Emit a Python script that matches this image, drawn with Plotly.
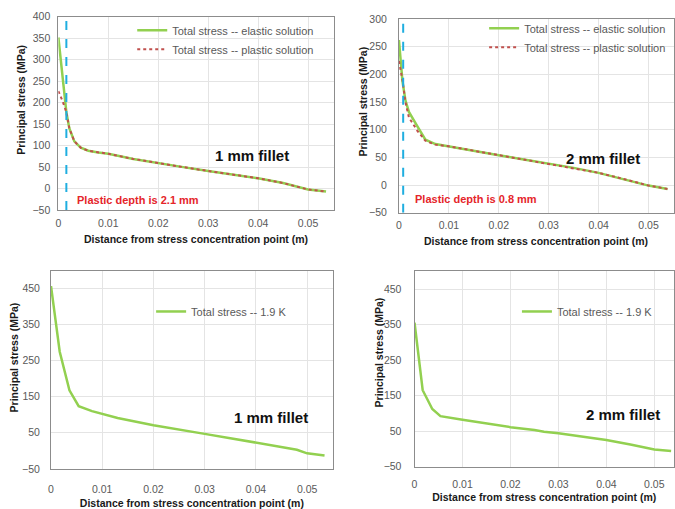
import plotly.graph_objects as go

W, H = 675, 509

# ---------------- data ----------------
tl_el_x = [0, 0.0016, 0.0022, 0.0032, 0.0045, 0.006, 0.008, 0.01, 0.015, 0.02, 0.025, 0.03, 0.035, 0.04, 0.045, 0.05, 0.0536]
tl_el_y = [352, 178, 140, 110, 95, 88, 84, 81, 69, 59, 50, 41, 33, 24, 13, -2, -7]
tl_pl_x = [0, 0.0008, 0.0016, 0.0022, 0.0032, 0.0045, 0.006, 0.008, 0.01, 0.015, 0.02, 0.025, 0.03, 0.035, 0.04, 0.045, 0.05, 0.0536]
tl_pl_y = [227, 205, 178, 140, 110, 95, 88, 84, 81, 69, 59, 50, 41, 33, 24, 13, -2, -7]

tr_el_x = [0, 0.0007, 0.0013, 0.002, 0.0037, 0.0053, 0.0073, 0.01, 0.015, 0.02, 0.025, 0.03, 0.035, 0.04, 0.045, 0.05, 0.0538]
tr_el_y = [262, 188, 153, 132, 106, 82, 74, 70, 62, 54, 46, 39, 31, 22, 11, -1, -7]
tr_pl_x = [0, 0.0007, 0.0013, 0.002, 0.0037, 0.0053, 0.0073, 0.01, 0.015, 0.02, 0.025, 0.03, 0.035, 0.04, 0.045, 0.05, 0.0538]
tr_pl_y = [224, 190, 150, 122, 98, 80, 73, 70, 62, 54, 46, 39, 31, 22, 11, -1, -7]

bl_x = [0, 0.0017, 0.0036, 0.0054, 0.008, 0.01, 0.013, 0.02, 0.025, 0.03, 0.035, 0.04, 0.045, 0.048, 0.05, 0.0534]
bl_y = [457, 275, 168, 124, 110, 102, 91, 71, 60, 47, 35, 22, 10, 3, -7, -13]

br_x = [0, 0.0017, 0.0037, 0.0054, 0.01, 0.015, 0.018, 0.02, 0.025, 0.027, 0.03, 0.035, 0.04, 0.045, 0.05, 0.0535]
br_y = [355, 165, 112, 92, 82, 72, 64, 61, 53, 48, 44, 35, 25, 12, -2, -6]

tl_depth = 0.0016
tr_depth = 0.00085

x_title = "Distance from stress concentration point (m)"
y_title = "Principal stress (MPa)"

GREEN = "#92D050"
RED = "#C0504D"
BLUE = "#1FAEE0"
GREY = "#595959"

fig = go.Figure()

# top-left
fig.add_trace(go.Scatter(x=tl_el_x, y=tl_el_y, mode="lines", name="Total stress -- elastic solution",
                         line=dict(color=GREEN, width=2.5), xaxis="x", yaxis="y", legend="legend"))
fig.add_trace(go.Scatter(x=tl_pl_x, y=tl_pl_y, mode="lines", name="Total stress -- plastic solution",
                         line=dict(color=RED, width=2, dash="dot"), xaxis="x", yaxis="y", legend="legend"))
fig.add_trace(go.Scatter(x=[tl_depth, tl_depth], y=[-50, 390], mode="lines", showlegend=False,
                         line=dict(color=BLUE, width=2, dash="dash"), xaxis="x", yaxis="y"))
# top-right
fig.add_trace(go.Scatter(x=tr_el_x, y=tr_el_y, mode="lines", name="Total stress -- elastic solution",
                         line=dict(color=GREEN, width=2.5), xaxis="x2", yaxis="y2", legend="legend2"))
fig.add_trace(go.Scatter(x=tr_pl_x, y=tr_pl_y, mode="lines", name="Total stress -- plastic solution",
                         line=dict(color=RED, width=2, dash="dot"), xaxis="x2", yaxis="y2", legend="legend2"))
fig.add_trace(go.Scatter(x=[tr_depth, tr_depth], y=[-50, 297], mode="lines", showlegend=False,
                         line=dict(color=BLUE, width=2, dash="dash"), xaxis="x2", yaxis="y2"))
# bottom-left
fig.add_trace(go.Scatter(x=bl_x, y=bl_y, mode="lines", name="Total stress -- 1.9 K",
                         line=dict(color=GREEN, width=2.5), xaxis="x3", yaxis="y3", legend="legend3"))
# bottom-right
fig.add_trace(go.Scatter(x=br_x, y=br_y, mode="lines", name="Total stress -- 1.9 K",
                         line=dict(color=GREEN, width=2.5), xaxis="x4", yaxis="y4", legend="legend4"))


def px(x):
    return x / W


def py(y):
    return 1 - y / H


tickfont = dict(family="Liberation Sans, Arial", size=10.5, color=GREY)
titlefont = dict(family="Liberation Sans, Arial", size=10.5, color="#1A1A1A")
common = dict(showgrid=True, gridcolor="#E4E4E4", gridwidth=1, zeroline=False, showline=True,
              mirror=True, linecolor="#8C8C8C", linewidth=1, ticks="", tickfont=tickfont)


def xax(dom, rng, anchor, standoff, title=None, tstand=0):
    d = dict(domain=dom, range=rng, anchor=anchor, dtick=0.01, tick0=0,
             ticklabelstandoff=standoff, **common)
    if title:
        d["title"] = dict(text="<b>%s</b>" % title, font=titlefont, standoff=tstand)
    return d


def yax(dom, rng, anchor, tick0, dtick, standoff):
    return dict(domain=dom, range=rng, anchor=anchor, tick0=tick0, dtick=dtick,
                ticklabelstandoff=standoff, **common)


legfont = dict(family="Liberation Sans, Arial", size=11, color=GREY)


def leg(x, y):
    return dict(x=px(x), y=py(y), xanchor="left", yanchor="top", bgcolor="rgba(0,0,0,0)",
                font=legfont, itemwidth=30, tracegroupgap=0)


fig.update_layout(
    width=W, height=H, margin=dict(l=0, r=0, t=0, b=0),
    paper_bgcolor="white", plot_bgcolor="white",
    xaxis=xax([px(55.7), px(333)], [0, 0.0552], "y", 3),
    yaxis=yax([py(209), py(11)], [-50, 400], "x", -50, 50, 5),
    xaxis2=xax([px(398.3), 1.0], [0, 0.0551], "y2", 3),
    yaxis2=yax([py(211.7), py(13.3)], [-50, 300], "x2", -50, 50, 9),
    xaxis3=xax([px(48.3), px(331.7)], [0, 0.055], "y3", 11, x_title, 5),
    yaxis3=yax([py(474), py(271)], [-50, 500], "x3", -50, 100, 8),
    xaxis4=xax([px(414), 1.0], [0, 0.0541], "y4", 8, x_title, 4),
    yaxis4=yax([py(471.7), py(271.7)], [-50, 500], "x4", -50, 100, 10),
    legend=leg(130, 10),
    legend2=leg(484, 8),
    legend3=leg(149, 298),
    legend4=leg(517, 298),
)

ann = []
for (x, y) in [(194, 239), (536, 241)]:
    ann.append(dict(text="<b>%s</b>" % x_title, x=px(x), y=py(y), xref="paper", yref="paper",
                    showarrow=False, font=titlefont, xanchor="center", yanchor="middle"))
for (x, y) in [(18, 96), (362, 98), (11, 360), (378, 355)]:
    ann.append(dict(text="<b>%s</b>" % y_title, x=px(x), y=py(y), xref="paper", yref="paper",
                    showarrow=False, font=titlefont, textangle=-90, xanchor="center", yanchor="middle"))

fillfont = dict(family="Liberation Sans, Arial", size=15, color="#111111")
for (txt, x, y) in [("1 mm fillet", 250.5, 153), ("2 mm fillet", 604, 156),
                    ("1 mm fillet", 269.5, 421), ("2 mm fillet", 623.5, 418)]:
    ann.append(dict(text="<b>%s</b>" % txt, x=px(x), y=py(y), xref="paper", yref="paper",
                    showarrow=False, font=fillfont, xanchor="center", yanchor="middle"))

redfont = dict(family="Liberation Sans, Arial", size=11, color="#E5252A")
for (txt, x, y) in [("Plastic depth is 2.1 mm", 72.7, 198.3), ("Plastic depth is 0.8 mm", 412, 197.3)]:
    ann.append(dict(text="<b>%s</b>" % txt, x=px(x), y=py(y), xref="paper", yref="paper",
                    showarrow=False, font=redfont, xanchor="left", yanchor="middle"))

fig.update_layout(annotations=ann)

fig.write_html("out.html")
